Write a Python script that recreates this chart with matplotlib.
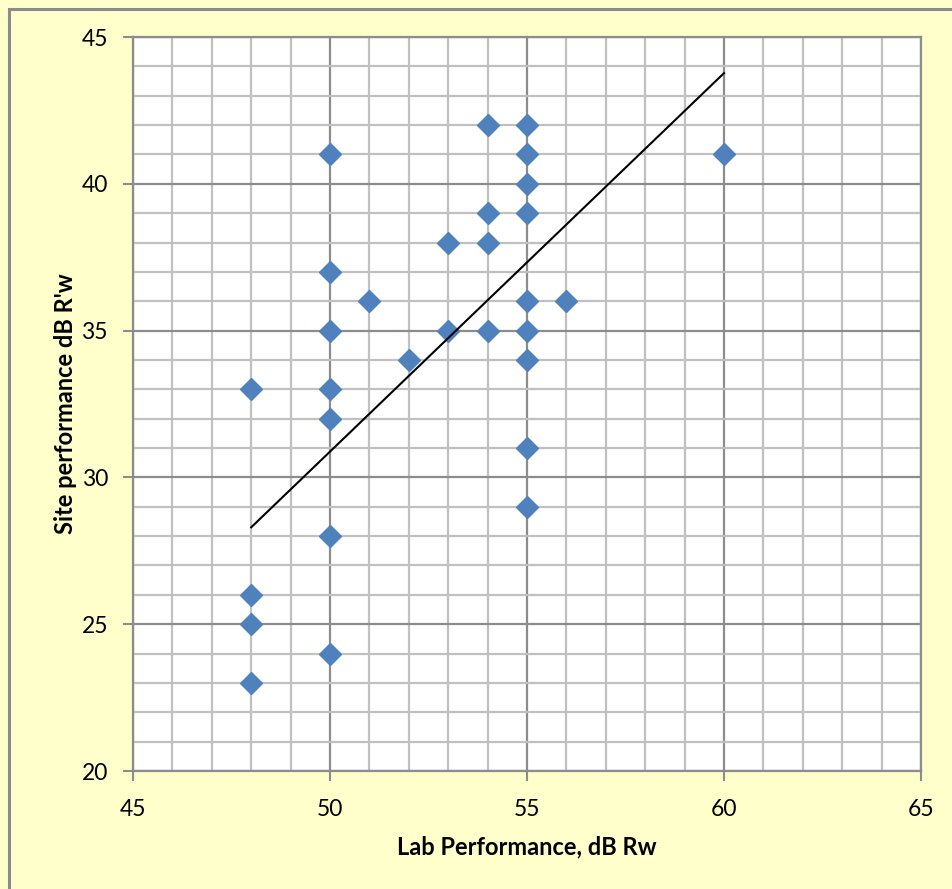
import numpy as np
from matplotlib import pyplot as plt
from matplotlib.patches import Rectangle
from matplotlib.ticker import MultipleLocator

# lab rating (Rw) vs site result (R'w)
lab_rw = [48, 48, 48, 48,
          50, 50, 50, 50, 50, 50, 50,
          51, 52, 53, 53,
          54, 54, 54, 54,
          55, 55, 55, 55, 55, 55, 55, 55, 55,
          56, 60]
site_rw = [33, 26, 25, 23,
           41, 37, 35, 33, 32, 28, 24,
           36, 34, 38, 35,
           42, 39, 38, 35,
           42, 41, 40, 39, 36, 35, 34, 31, 29,
           36, 41]

# trend line ends as drawn in the original
trend_x = [48, 60]
trend_y = [28.3, 43.77]

plt.rcParams['font.family'] = ['Lato', 'DejaVu Sans']

fig = plt.figure(figsize=(9.52, 8.89), dpi=100, facecolor='#FFFFCC')
# outer chart border
fig.patches.append(Rectangle((9/952, -0.1), 1.2, 1 - 9/889 + 0.1,
                             transform=fig.transFigure, fill=False,
                             edgecolor='#8C8C8C', linewidth=2.2, zorder=0))

ax = fig.add_axes([133/952, 118/889, 788/952, 734/889])
ax.set_facecolor('white')
ax.set_xlim(45, 65)
ax.set_ylim(20, 45)
ax.xaxis.set_major_locator(MultipleLocator(5))
ax.yaxis.set_major_locator(MultipleLocator(5))
ax.xaxis.set_minor_locator(MultipleLocator(1))
ax.yaxis.set_minor_locator(MultipleLocator(1))
ax.grid(which='minor', color='#C0C0C0', linewidth=1.6, zorder=0)
ax.grid(which='major', color='#8C8C8C', linewidth=1.6, zorder=0)
ax.set_axisbelow(True)
ax.tick_params(which='minor', length=0)
ax.tick_params(which='major', direction='out', length=7, width=1.5,
               color='#8C8C8C', labelsize=16.5)
ax.tick_params(axis='x', pad=13)
ax.tick_params(axis='y', pad=11)
for s in ax.spines.values():
    s.set_color('#8C8C8C')
    s.set_linewidth(1.6)

ax.plot(lab_rw, site_rw, linestyle='none', marker='D', markersize=11,
        color='#4F81BD', zorder=3)
ax.plot(trend_x, trend_y, color='black', linewidth=1.5, zorder=4)

ax.set_xlabel('Lab Performance, dB Rw', fontsize=17, fontweight='bold',
              labelpad=11)
ax.set_ylabel("Site performance dB R'w", fontsize=17, fontweight='bold',
              labelpad=3)

fig.savefig('out.png', dpi=100, facecolor=fig.get_facecolor())
